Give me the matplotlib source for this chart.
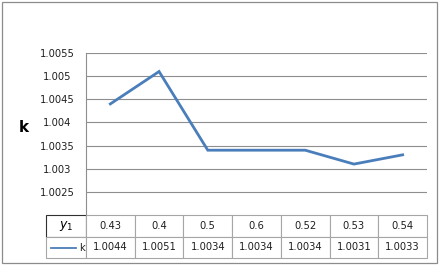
import matplotlib
matplotlib.use("Agg")
import matplotlib.pyplot as plt
from matplotlib.patches import Rectangle

# data
y1_labels = ["0.43", "0.4", "0.5", "0.6", "0.52", "0.53", "0.54"]
k_values = [1.0044, 1.0051, 1.0034, 1.0034, 1.0034, 1.0031, 1.0033]
y_ticks = [1.0025, 1.003, 1.0035, 1.004, 1.0045, 1.005, 1.0055]
y_tick_labels = ["1.0025", "1.003", "1.0035", "1.004", "1.0045", "1.005", "1.0055"]

line_color = "#4A7EBB"
grid_color = "#8E8E8E"
border_color = "#A6A6A6"

W, H = 441, 265
fig = plt.figure(figsize=(W / 100, H / 100), dpi=100)

# outer chart border
fig.patches.append(Rectangle((2 / W, 2 / H), (437 - 2) / W, (263 - 2) / H,
                             transform=fig.transFigure, fill=False,
                             edgecolor="#8C8C8C", lw=0.9))

# plot area
ax = fig.add_axes([86 / W, (H - 215) / H, (427 - 86) / W, (215 - 53) / H])
ax.plot(range(len(k_values)), k_values, color=line_color, lw=2.0,
        solid_joinstyle="miter")
ax.set_xlim(-0.5, len(k_values) - 0.5)
ax.set_ylim(1.002, 1.0055)
ax.set_yticks(y_ticks)
ax.set_yticklabels(y_tick_labels, fontsize=7.2, color="#202020", ha="center")
ax.set_xticks([])
ax.tick_params(axis="y", length=0, pad=21)
ax.grid(axis="y", color=grid_color, lw=0.8)
for s in ["top", "right", "bottom"]:
    ax.spines[s].set_visible(False)
ax.spines["left"].set_color(grid_color)
ax.spines["left"].set_linewidth(0.8)
ax.set_axisbelow(True)

fig.text(24 / W, (H - 128) / H, "k", fontsize=11, fontweight="bold",
         ha="center", va="center")

# data table
tax = fig.add_axes([46 / W, (H - 258) / H, (427 - 46) / W, (258 - 215) / H])
tax.axis("off")
first_w = 40 / 381
col_w = (1 - first_w) / len(y1_labels)
rows = [[r"$y_1$"] + y1_labels,
        [""] + ["%.4f" % v for v in k_values]]
tbl = tax.table(cellText=rows, cellLoc="center",
                colWidths=[first_w] + [col_w] * len(y1_labels),
                bbox=[0, 0, 1, 1])
tbl.auto_set_font_size(False)
tbl.set_fontsize(7.2)
for (r, c), cell in tbl.get_celld().items():
    cell.set_edgecolor(border_color)
    cell.set_linewidth(0.8)
    cell.get_text().set_color("#202020")
tbl[0, 0].set_edgecolor("#303030")
tbl[0, 0].get_text().set_fontsize(9)
tbl[0, 0].get_text().set_color("black")

# legend key inside table
tax.plot([5 / 381, 30 / 381], [10 / 43, 10 / 43], color=line_color, lw=1.3,
         transform=tax.transAxes, clip_on=False)
tax.text(33 / 381, 10 / 43, "k", fontsize=7.2, va="center", ha="left",
         transform=tax.transAxes, color="#202020")

fig.savefig("out.png", dpi=100)
